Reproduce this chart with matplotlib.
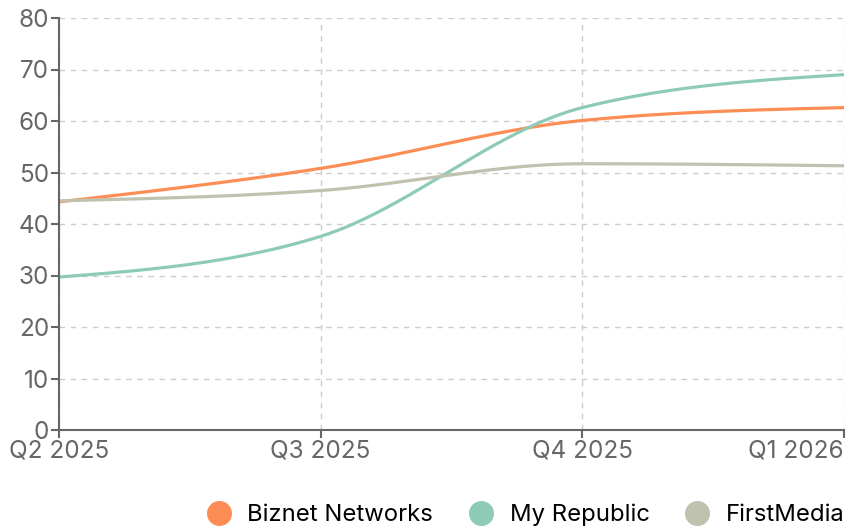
import numpy as np
import matplotlib
matplotlib.use("Agg")
import matplotlib.pyplot as plt
from matplotlib.lines import Line2D

plt.rcParams['font.family'] = ['Inter', 'DejaVu Sans']

quarters = ["Q2 2025", "Q3 2025", "Q4 2025", "Q1 2026"]
biznet = [44.3, 50.8, 60.1, 62.6]
my_republic = [29.7, 37.6, 62.6, 69.0]
first_media = [44.5, 46.5, 51.7, 51.3]

series = [
    ("Biznet Networks", biznet, "#fc8e55"),
    ("My Republic", my_republic, "#8ecbb7"),
    ("FirstMedia", first_media, "#c0c2b0"),
]


def monotone_curve(x, y, n=60):
    # monotone cubic (like d3 curveMonotoneX)
    x = np.asarray(x, float)
    y = np.asarray(y, float)
    h = np.diff(x)
    s = np.diff(y) / h
    t = np.zeros(len(x))
    for i in range(1, len(x) - 1):
        p = (s[i - 1] * h[i] + s[i] * h[i - 1]) / (h[i - 1] + h[i])
        t[i] = (np.sign(s[i - 1]) + np.sign(s[i])) * min(abs(s[i - 1]), abs(s[i]), 0.5 * abs(p))
    t[0] = (3 * s[0] - t[1]) / 2
    t[-1] = (3 * s[-1] - t[-2]) / 2
    xs, ys = [], []
    for i in range(len(x) - 1):
        u = np.linspace(0, 1, n)
        h00 = 2 * u**3 - 3 * u**2 + 1
        h10 = u**3 - 2 * u**2 + u
        h01 = -2 * u**3 + 3 * u**2
        h11 = u**3 - u**2
        xs.append(x[i] + u * h[i])
        ys.append(h00 * y[i] + h10 * h[i] * t[i] + h01 * y[i + 1] + h11 * h[i] * t[i + 1])
    return np.concatenate(xs), np.concatenate(ys)


fig = plt.figure(figsize=(8.61, 5.29), dpi=100)
ax = fig.add_axes([59 / 861, 1 - 430 / 529, (844 - 59) / 861, (430 - 18) / 529])

xpos = np.arange(len(quarters))
for name, vals, col in series:
    cx, cy = monotone_curve(xpos, vals)
    ax.plot(cx, cy, color=col, lw=2.3, solid_capstyle='butt', clip_on=False)

ax.set_xlim(0, len(quarters) - 1)
ax.set_ylim(0, 80)
ax.set_yticks(range(0, 81, 10))
ax.set_xticks(xpos)
ax.set_xticklabels(quarters)
labels = ax.get_xticklabels()
labels[-1].set_horizontalalignment('right')

ax.grid(True, color="#cccccc", linestyle=(0, (4, 4)), linewidth=1)
ax.set_axisbelow(True)
for sp in ["top", "right"]:
    ax.spines[sp].set_visible(False)
for sp in ["left", "bottom"]:
    ax.spines[sp].set_color("#666666")
    ax.spines[sp].set_linewidth(1.5)
ax.tick_params(colors="#666666", labelsize=17.5, length=6, width=1.5)
ax.tick_params(axis='x', pad=1)
ax.tick_params(axis='y', pad=1)

handles = [Line2D([], [], marker='o', linestyle='none', markersize=17,
                  markerfacecolor=c, markeredgecolor=c) for _, _, c in series]
fig.legend(handles, [s[0] for s in series], loc='lower right', ncol=3,
           bbox_to_anchor=(1.006, -0.035), frameon=False, fontsize=17.2,
           handletextpad=0.6, columnspacing=1.4, handlelength=1.2)

fig.savefig("out.png", dpi=100)
